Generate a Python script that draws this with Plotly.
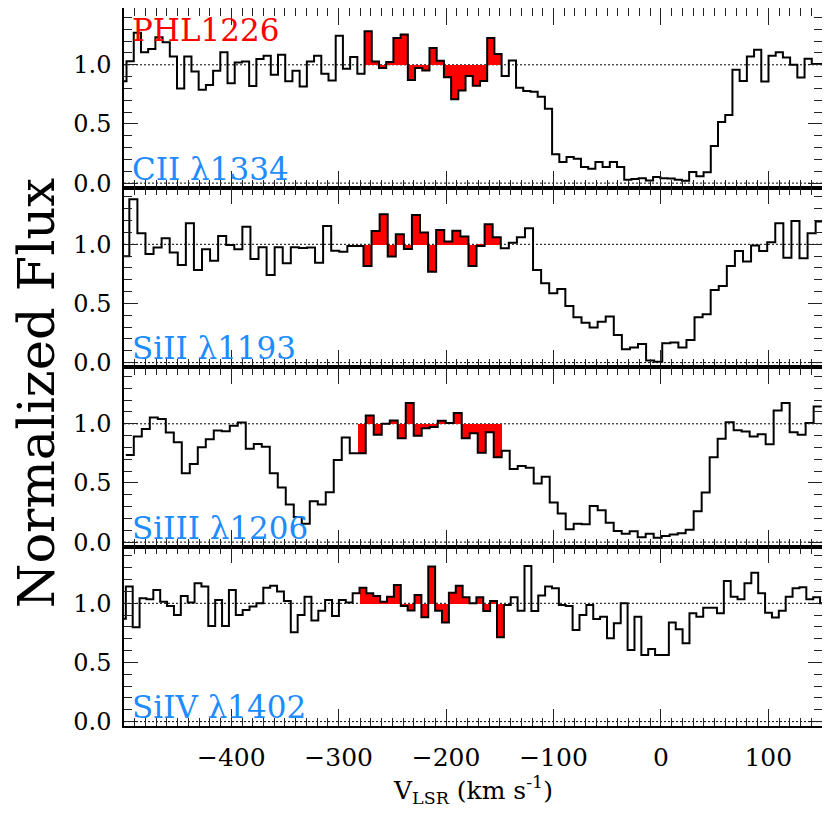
import numpy as np
import plotly.graph_objects as go
from plotly.subplots import make_subplots

# velocity grid of each spectrum: centre of first bin and bin width (km/s)
v0_c2, dv_c2 = -500.9, 6.716
v0_si2, dv_si2 = -498.7, 7.518
v0_si3, dv_si3 = -494.5, 7.447
v0_si4, dv_si4 = -501.4, 6.40

flux_c2 = [0.86, 1.03, 1.27, 1.105, 1.133, 1.232, 1.19, 1.07, 0.80, 1.07,
           0.943, 0.79, 0.83, 0.95, 1.105, 0.844, 1.02, 1.028, 0.82, 1.048,
           1.076, 0.915, 1.085, 0.86, 0.95, 0.816, 1.028, 1.076, 0.924, 0.867,
           1.246, 0.966, 1.065, 0.924, 1.283, 1.028, 0.972, 1.023, 1.227, 1.255,
           0.872, 0.972, 0.952, 1.142, 1.034, 0.895, 0.708, 0.782, 0.906, 0.822,
           0.864, 1.227, 1.091, 0.906, 1.037, 0.807, 0.779, 0.773, 0.731, 0.629,
           0.244, 0.178, 0.221, 0.207, 0.136, 0.122, 0.178, 0.136, 0.178, 0.136,
           0.028, 0.034, 0.042, 0.023, 0.051, 0.042, 0.040, 0.028, 0.020, 0.093,
           0.059, 0.091, 0.314, 0.516, 0.575, 0.958, 0.864, 1.071, 1.127, 0.858,
           1.076, 1.105, 1.062, 1.0, 0.892, 1.051, 1.006, 1.006]

flux_si2 = [0.90, 1.38, 1.093, 0.918, 0.972, 1.051, 0.93, 0.825, 1.177, 0.783,
            0.958, 0.862, 1.07, 0.994, 0.958, 1.149, 0.876, 0.975, 0.741, 0.975,
            0.839, 0.975, 0.969, 0.972, 0.845, 1.155, 0.946, 0.938, 0.986, 0.986,
            0.817, 1.113, 1.254, 0.896, 1.085, 0.961, 1.248, 1.099, 0.769, 1.121,
            1.023, 1.115, 1.065, 0.817, 0.986, 1.169, 1.059, 0.966, 1.014, 1.059,
            1.135, 0.783, 0.67, 0.586, 0.623, 0.479, 0.383, 0.338, 0.296, 0.346,
            0.389, 0.234, 0.113, 0.127, 0.158, 0.017, 0.008, 0.163, 0.169, 0.127,
            0.192, 0.383, 0.408, 0.614, 0.648, 0.817, 0.944, 0.854, 0.989, 0.944,
            1.017, 1.177, 0.887, 1.197, 0.882, 1.093, 1.192]

flux_si3 = [0.737, 0.892, 0.955, 1.054, 1.04, 0.926, 0.844, 0.581, 0.66, 0.802,
            0.87, 0.943, 0.938, 0.983, 1.011, 0.79, 0.83, 0.807, 0.581, 0.462,
            0.317, 0.212, 0.156, 0.346, 0.317, 0.422, 0.694, 0.884, 0.751, 0.751,
            1.071, 0.907, 1.0, 1.028, 0.878, 1.176, 0.9, 0.963, 0.972, 1.025,
            1.006, 1.091, 0.878, 0.92, 0.756, 0.929, 0.717, 0.773, 0.618, 0.643,
            0.629, 0.496, 0.552, 0.334, 0.241, 0.108, 0.156, 0.15, 0.306, 0.269,
            0.164, 0.093, 0.071, 0.091, 0.042, 0.071, 0.037, 0.051, 0.065, 0.076,
            0.105, 0.261, 0.419, 0.717, 0.873, 1.014, 0.946, 0.935, 0.892, 0.912,
            0.827, 1.113, 1.176, 0.929, 0.907, 1.006, 1.147]

flux_si4 = [0.87, 1.141, 0.797, 1.042, 1.034, 1.113, 1.014, 0.977, 0.901, 1.062,
            1.006, 1.169, 1.141, 0.808, 1.028, 0.808, 1.113, 0.901, 0.944, 0.972,
            1.0, 1.132, 1.149, 1.099, 1.02, 0.755, 0.901, 1.056, 0.854, 0.938,
            1.028, 0.893, 1.028, 1.006, 1.085, 1.132, 1.085, 1.062, 1.014, 1.056,
            1.155, 0.977, 0.94, 1.070, 0.882, 1.31, 0.938, 0.837, 1.09, 1.149,
            1.051, 1.0, 1.051, 0.935, 1.02, 0.713, 0.986, 1.051, 0.938, 1.315,
            0.935, 1.065, 1.141, 1.127, 0.986, 0.977, 0.775, 0.901, 0.986, 0.868,
            0.887, 0.704, 0.831, 1.0, 0.606, 0.887, 0.563, 0.614, 0.563, 0.563,
            0.837, 0.78, 0.662, 0.915, 0.887, 0.963, 0.963, 0.915, 1.189, 1.056,
            1.034, 1.169, 1.259, 1.085, 0.921, 0.879, 0.938, 1.056, 1.127, 1.135,
            1.034, 1.051, 1.0]

# bins shaded red (component window), as slices into the flux lists
red_c2 = (34, 53)
red_si2 = (30, 47)
red_si3 = (29, 47)
red_si4 = (35, 56)

ion_labels = ["CII λ1334", "SiII λ1193", "SiIII λ1206", "SiIV λ1402"]
target = "PHL1226"

panels = [(v0_c2, dv_c2, flux_c2, red_c2),
          (v0_si2, dv_si2, flux_si2, red_si2),
          (v0_si3, dv_si3, flux_si3, red_si3),
          (v0_si4, dv_si4, flux_si4, red_si4)]

SERIF = "DejaVu Serif"
BLUE = "#1e8cff"
RED = "#ff0000"

fig = make_subplots(rows=4, cols=1, shared_xaxes=True, vertical_spacing=0)

for row, (v0, dv, flux, red) in enumerate(panels, start=1):
    flux = np.array(flux)
    centres = v0 + dv * np.arange(len(flux))
    edges = np.append(centres - dv / 2, centres[-1] + dv / 2)
    lo, hi = red
    fig.add_trace(go.Bar(x=centres[lo:hi], y=flux[lo:hi] - 1, base=1, width=dv,
                         marker=dict(color=RED, line_width=0)), row=row, col=1)
    fig.add_trace(go.Scatter(x=edges, y=np.append(flux, flux[-1]), mode="lines",
                             line=dict(color="black", width=2, shape="hv")),
                  row=row, col=1)
    suffix = "" if row == 1 else str(row)
    for yv in (0, 1):
        fig.add_shape(type="line", xref=f"x{suffix} domain", yref=f"y{suffix}",
                      x0=0, x1=1, y0=yv, y1=yv, layer="below",
                      line=dict(color="black", width=1, dash="2px,2px"))
    fig.add_annotation(text=ion_labels[row - 1], xref=f"x{suffix} domain",
                       yref=f"y{suffix} domain", x=0.008, y=0.105,
                       xanchor="left", yanchor="middle", showarrow=False,
                       font=dict(family=SERIF, size=31, color=BLUE))

fig.add_annotation(text=target, xref="x domain", yref="y domain", x=0.008, y=0.875,
                   xanchor="left", yanchor="middle", showarrow=False,
                   font=dict(family=SERIF, size=31, color=RED))

fig.add_annotation(text="Normalized Flux", xref="paper", yref="paper",
                   x=-0.125, y=0.4645, textangle=-90, showarrow=False,
                   xanchor="center", yanchor="middle",
                   font=dict(family=SERIF, size=51, color="black"))
fig.add_annotation(text="V<sub>LSR</sub> (km s<sup>-1</sup>)", xref="paper", yref="paper",
                   x=0.5, y=-0.089, showarrow=False, xanchor="center", yanchor="middle",
                   font=dict(family=SERIF, size=25, color="black"))

fig.update_xaxes(range=[-499.9, 150], tick0=0, dtick=100, ticks="inside", ticklen=17,
                 tickwidth=1, tickcolor="#222",
                 minor=dict(dtick=10, ticks="inside", ticklen=8, tickwidth=1, tickcolor="#222"),
                 showline=True, linewidth=1.5, linecolor="black", mirror="allticks",
                 showgrid=False, zeroline=False, ticklabelstandoff=8, automargin=False,
                 tickfont=dict(family=SERIF, size=25, color="black"))
fig.update_yaxes(range=[-0.037, 1.48], tick0=0, dtick=0.5, tickformat=".1f",
                 ticks="inside", ticklen=14, tickwidth=1, tickcolor="#222",
                 minor=dict(dtick=0.1, ticks="inside", ticklen=8, tickwidth=1, tickcolor="#222"),
                 showline=True, linewidth=1.5, linecolor="black", mirror="allticks",
                 showgrid=False, zeroline=False, ticklabelstandoff=6, automargin=False,
                 tickfont=dict(family=SERIF, size=24, color="black"))

# the page body adds an 8 px offset, so the figure is sized to end at the window edge
fig.update_layout(width=822, height=822, margin=dict(l=116, r=8, t=0, b=104),
                  plot_bgcolor="white", paper_bgcolor="white", showlegend=False,
                  bargap=0)

fig.write_html("out.html")
